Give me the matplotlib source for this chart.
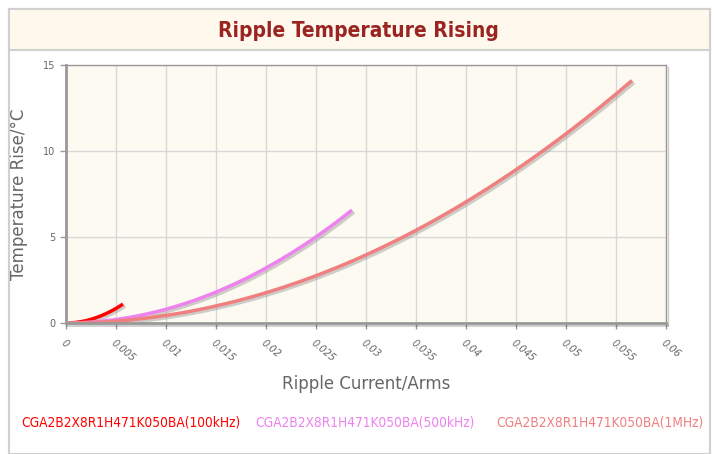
import numpy as np
import matplotlib.pyplot as plt
import matplotlib.patheffects as pe
from matplotlib.patches import Rectangle

# values
cur_100k = [0, 0.001, 0.002, 0.003, 0.004, 0.005, 0.0057]
temp_100k = [0, 0.03, 0.14, 0.31, 0.54, 0.85, 1.1]

cur_500k = [0, 0.0025, 0.005, 0.0075, 0.01, 0.0125, 0.015, 0.0175, 0.02, 0.0225, 0.025, 0.0286]
temp_500k = [0, 0.05, 0.2, 0.45, 0.8, 1.25, 1.8, 2.45, 3.2, 4.05, 5.0, 6.57]

cur_1m = [0, 0.005, 0.01, 0.015, 0.02, 0.025, 0.03, 0.035, 0.04, 0.045, 0.05, 0.0566]
temp_1m = [0, 0.11, 0.44, 0.99, 1.76, 2.75, 3.96, 5.39, 7.04, 8.91, 11.0, 14.1]

names = ["CGA2B2X8R1H471K050BA(100kHz)", "CGA2B2X8R1H471K050BA(500kHz)",
         "CGA2B2X8R1H471K050BA(1MHz)"]
colors = ["#ff0000", "#ee82ee", "#f08080"]

xticks = np.arange(0, 0.0601, 0.005)
xlabels = ["0", "0.005", "0.01", "0.015", "0.02", "0.025", "0.03",
           "0.035", "0.04", "0.045", "0.05", "0.055", "0.06"]
yticks = [0, 5, 10, 15]


def smooth(x, y):
    # draw a smooth line through the read points
    xs = np.linspace(x[0], x[-1], 200)
    c = np.polyfit(x, y, 3)
    return xs, np.polyval(c, xs)


fig = plt.figure(figsize=(7.17, 4.54), dpi=100)
fig.patch.set_facecolor("white")

# outer frame and title band
fig.add_artist(Rectangle((9/717, 0), 701/717, 1 - 9/454, transform=fig.transFigure,
                         fill=False, edgecolor="#d0d0d0", lw=1.5))
fig.add_artist(Rectangle((9/717, 1 - 50/454), 701/717, 41/454, transform=fig.transFigure,
                         facecolor="#fef9ec", edgecolor="#d0d0d0", lw=1.5))
fig.text(0.5, 1 - 31/454, "Ripple Temperature Rising", ha="center", va="center",
         fontsize=15, fontweight="bold", color="#9b2423", fontstretch="condensed")

ax = fig.add_axes([66/717, 1 - 323/454, 600/717, 258/454])
ax.set_facecolor("#fdfaf2")

for x, y, c in zip([cur_100k, cur_500k, cur_1m], [temp_100k, temp_500k, temp_1m], colors):
    xs, ys = smooth(x, y)
    ax.plot(xs, ys, color=c, lw=2.5, solid_capstyle="butt",
            path_effects=[pe.SimpleLineShadow(offset=(1.5, -1.5), shadow_color="#888888", alpha=0.4),
                          pe.Normal()])

ax.set_xlim(0, 0.06)
ax.set_ylim(0, 15)
ax.set_xticks(xticks)
ax.set_xticklabels(xlabels, rotation=-40, ha="left", va="top", rotation_mode="anchor",
                   style="italic")
ax.set_yticks(yticks)
ax.tick_params(axis="both", labelsize=7, colors="#999999", labelcolor="#666666",
               length=4, width=1)
ax.tick_params(axis="x", pad=7)
ax.grid(True, color="#d8d8d8", lw=1)
ax.set_axisbelow(True)
for s in ax.spines.values():
    s.set_color("#999999")
    s.set_linewidth(1)
ax.spines["left"].set_linewidth(2)
ax.spines["bottom"].set_linewidth(2)
ax.spines["right"].set_path_effects([pe.SimpleLineShadow(offset=(1.5, -1.5), alpha=0.2), pe.Normal()])
ax.spines["bottom"].set_path_effects([pe.SimpleLineShadow(offset=(1, -1.5), alpha=0.2), pe.Normal()])

ax.set_xlabel("Ripple Current/Arms", fontsize=12, color="#666666", labelpad=8)
ax.set_ylabel("Temperature Rise/°C", fontsize=12, color="#666666", labelpad=11)

legend_x = [131, 365, 600]
for lx, n, c in zip(legend_x, names, colors):
    fig.text(lx/717, 1 - 423/454, n, ha="center", va="center", fontsize=9.8, color=c,
             fontstretch="condensed")

fig.savefig("out.png", dpi=100)
